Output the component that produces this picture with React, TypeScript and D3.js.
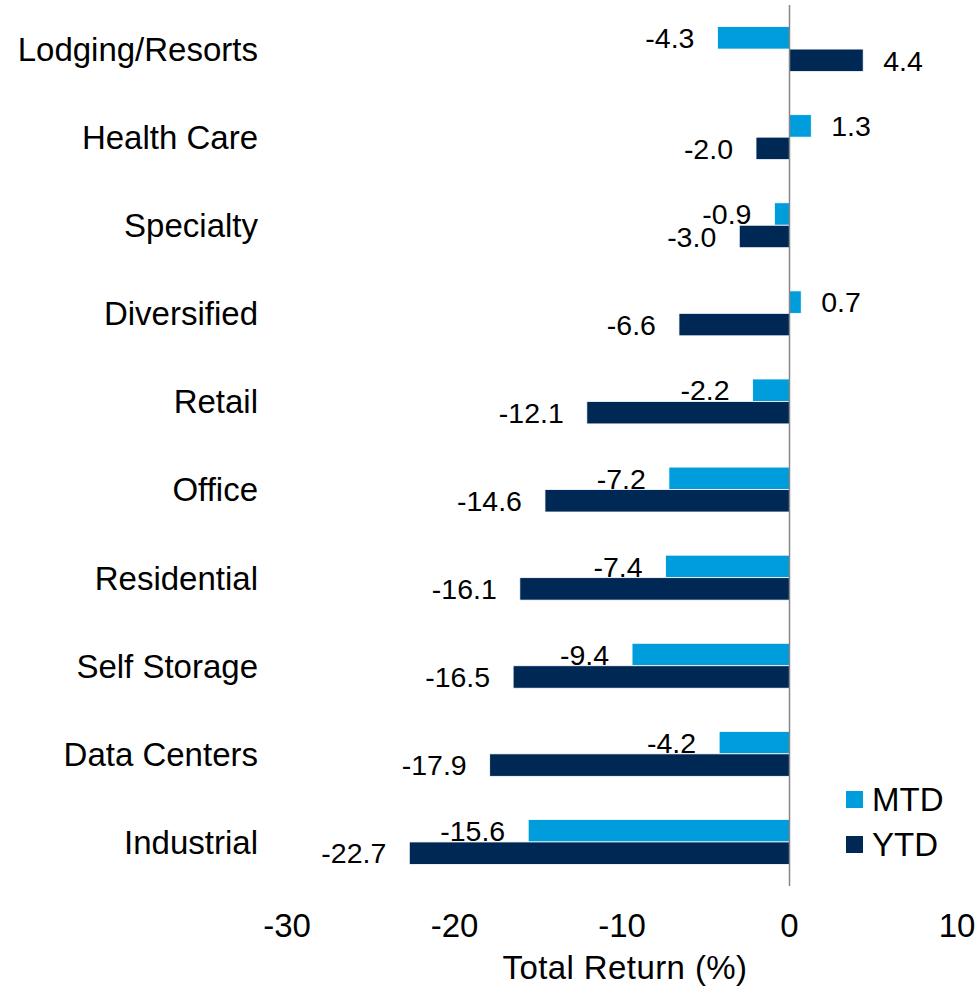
import React, { useEffect, useRef } from 'react';
import { select, scaleBand, scaleLinear } from 'd3';

// Data
const categories = [
  'Lodging/Resorts',
  'Health Care',
  'Specialty',
  'Diversified',
  'Retail',
  'Office',
  'Residential',
  'Self Storage',
  'Data Centers',
  'Industrial',
];
const mtdValues = [-4.3, 1.3, -0.9, 0.7, -2.2, -7.2, -7.4, -9.4, -4.2, -15.6];
const ytdValues = [4.4, -2.0, -3.0, -6.6, -12.1, -14.6, -16.1, -16.5, -17.9, -22.7];
const seriesNames = ['MTD', 'YTD'];
const xTicks = [-30, -20, -10, 0, 10];

const colors: Record<string, string> = { MTD: '#009ddc', YTD: '#002855' };

const FONT = "Arial, 'Liberation Sans', Helvetica, sans-serif";

const ReturnsChart: React.FC = () => {
  const svgRef = useRef<SVGSVGElement>(null);

  useEffect(() => {
    if (!svgRef.current) return;
    document.body.style.margin = '0';

    const width = 979;
    const height = 986;
    const plot = { left: 287, right: 957, top: 5, bottom: 886 };

    const svg = select(svgRef.current);
    svg.selectAll('*').remove();
    svg.attr('width', width).attr('height', height).attr('viewBox', `0 0 ${width} ${height}`);

    svg.append('rect').attr('width', width).attr('height', height).attr('fill', '#ffffff');

    const x = scaleLinear().domain([-30, 10]).range([plot.left, plot.right]);

    const y0 = scaleBand<string>()
      .domain(categories)
      .range([plot.top, plot.bottom])
      .paddingInner(0.49)
      .paddingOuter(0.245);

    const y1 = scaleBand<string>().domain(seriesNames).range([0, y0.bandwidth()]);

    const rows = categories.map((c, i) => ({
      category: c,
      values: [
        { series: 'MTD', value: mtdValues[i] },
        { series: 'YTD', value: ytdValues[i] },
      ],
    }));

    // Category labels
    svg.append('g')
      .selectAll('text')
      .data(categories)
      .enter()
      .append('text')
      .attr('x', 258)
      .attr('y', d => (y0(d) || 0) + y0.bandwidth() / 2)
      .attr('dy', '0.36em')
      .attr('text-anchor', 'end')
      .attr('font-family', FONT)
      .attr('font-size', 33)
      .attr('fill', '#000')
      .text(d => d);

    // Bars
    const groups = svg.append('g')
      .selectAll('g')
      .data(rows)
      .enter()
      .append('g')
      .attr('transform', d => `translate(0,${y0(d.category)})`);

    groups.selectAll('rect')
      .data(d => d.values)
      .enter()
      .append('rect')
      .attr('x', d => x(Math.min(0, d.value)))
      .attr('y', d => y1(d.series) || 0)
      .attr('width', d => Math.abs(x(d.value) - x(0)))
      .attr('height', y1.bandwidth())
      .attr('fill', d => colors[d.series])
      .attr('stroke', '#ffffff')
      .attr('stroke-width', 0.8);

    // Value labels
    groups.selectAll('text')
      .data(d => d.values)
      .enter()
      .append('text')
      .attr('x', d => (d.value < 0 ? x(d.value) - 23 : x(d.value) + 20))
      .attr('y', d => (y1(d.series) || 0) + y1.bandwidth() / 2)
      .attr('dy', '0.36em')
      .attr('text-anchor', d => (d.value < 0 ? 'end' : 'start'))
      .attr('font-family', FONT)
      .attr('font-size', 28.5)
      .attr('fill', '#000')
      .text(d => d.value.toFixed(1));

    // Zero line
    svg.append('line')
      .attr('x1', x(0))
      .attr('x2', x(0))
      .attr('y1', plot.top)
      .attr('y2', plot.bottom)
      .attr('stroke', '#868686')
      .attr('stroke-width', 1.5);

    // X tick labels
    svg.append('g')
      .selectAll('text')
      .data(xTicks)
      .enter()
      .append('text')
      .attr('x', d => x(d))
      .attr('y', 937)
      .attr('text-anchor', 'middle')
      .attr('font-family', FONT)
      .attr('font-size', 33)
      .attr('fill', '#000')
      .text(d => String(d));

    // Axis title
    svg.append('text')
      .attr('x', (plot.left + plot.right) / 2 + 3)
      .attr('y', 979)
      .attr('text-anchor', 'middle')
      .attr('font-family', FONT)
      .attr('font-size', 33)
      .attr('letter-spacing', 0.4)
      .attr('fill', '#000')
      .text('Total Return (%)');

    // Legend
    const legend = svg.append('g')
      .selectAll('g')
      .data(seriesNames)
      .enter()
      .append('g')
      .attr('transform', (d, i) => `translate(846,${791 + i * 45})`);

    legend.append('rect')
      .attr('width', 17)
      .attr('height', 17)
      .attr('fill', d => colors[d]);

    legend.append('text')
      .attr('x', 26)
      .attr('y', 8.5)
      .attr('dy', '0.36em')
      .attr('font-family', FONT)
      .attr('font-size', 33)
      .attr('fill', '#000')
      .text(d => d);
  }, []);

  return <svg ref={svgRef} style={{ display: 'block' }} />;
};

export default function App() {
  return <ReturnsChart />;
}
